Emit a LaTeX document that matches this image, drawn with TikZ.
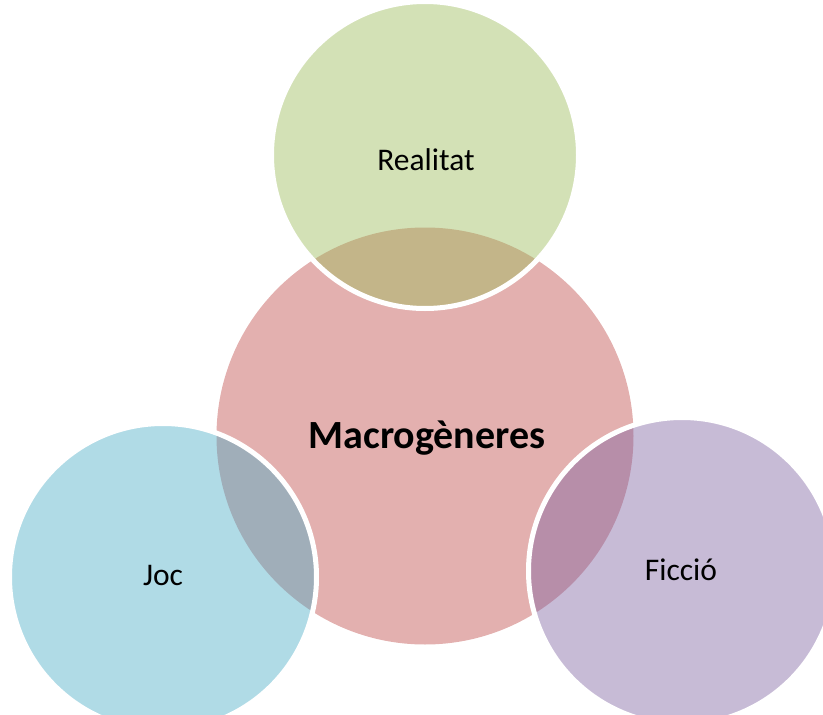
\documentclass[tikz,border=0pt]{standalone}
\usepackage{fontspec}
\setmainfont{Carlito}
\definecolor{accRed}{HTML}{C0504D}
\definecolor{accGreen}{HTML}{9BBB59}
\definecolor{accAqua}{HTML}{4BACC6}
\definecolor{accPurple}{HTML}{8064A2}
\begin{document}
\begin{tikzpicture}[x=1pt,y=-1pt,
  corecircle/.style={circle, inner sep=0pt, minimum size=417pt, fill=accRed, fill opacity=0.45},
  outercircle/.style={circle, inner sep=0pt, minimum size=307pt, fill=#1, fill opacity=0.44,
                      draw=white, line width=5pt},
  lbl/.style={inner sep=0pt, text=black, font=\fontsize{31.5}{37}\selectfont},
  corelbl/.style={inner sep=0pt, text=black, font=\fontsize{40}{48}\selectfont\bfseries}]
\useasboundingbox (0,0) rectangle (823,715);
\clip (0,0) rectangle (823,715);
% central set
\node[corecircle] (core) at (425,436) {};
% outer sets, drawn over the central one
\node[outercircle=accGreen] (real) at (425,155) {};
\node[outercircle=accAqua] (joc) at (163,577) {};
\node[outercircle=accPurple] (ficc) at (682,571) {};
% labels
\node[corelbl] (coreT) at (427,438) {Macrogèneres};
\node[lbl] (realT) at (426,160) {Realitat};
\node[lbl] (jocT) at (163,575) {Joc};
\node[lbl] (ficcT) at (681,570) {Ficció};
\end{tikzpicture}
\end{document}
